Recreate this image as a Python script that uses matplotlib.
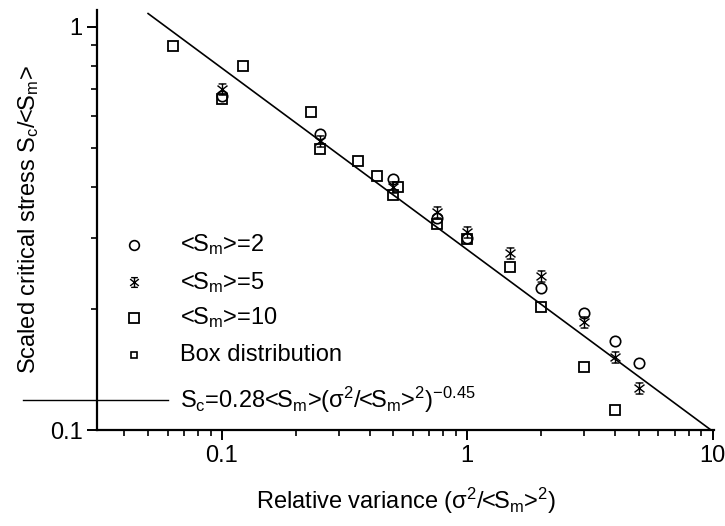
import matplotlib
matplotlib.use("Agg")
import matplotlib.pyplot as plt
import numpy as np
from matplotlib.path import Path

plt.rcParams['font.family'] = ['Liberation Sans', 'DejaVu Sans']
plt.rcParams['mathtext.fontset'] = 'custom'
plt.rcParams['mathtext.rm'] = 'Liberation Sans'
plt.rcParams['mathtext.it'] = 'Liberation Sans:italic'
plt.rcParams['mathtext.default'] = 'regular'

# <Sm>=2 (circles)
x_sm2 = [0.1, 0.25, 0.5, 0.75, 1.0, 2.0, 3.0, 4.0, 5.0]
y_sm2 = [0.675, 0.542, 0.42, 0.336, 0.30, 0.2255, 0.195, 0.1665, 0.147]

# <Sm>=5 (stars)
x_sm5 = [0.1, 0.25, 0.5, 0.75, 1.0, 1.5, 2.0, 3.0, 4.0, 5.0]
y_sm5 = [0.70, 0.52, 0.40, 0.347, 0.309, 0.274, 0.2415, 0.1856, 0.152, 0.127]

# <Sm>=10 (squares)
x_sm10 = [0.1, 0.25, 0.5, 0.75, 1.0, 1.5, 2.0, 3.0, 4.0]
y_sm10 = [0.662, 0.497, 0.382, 0.324, 0.297, 0.254, 0.202, 0.1435, 0.112]

# box distribution
x_box = [0.063, 0.122, 0.23, 0.36, 0.427, 0.52]
y_box = [0.897, 0.80, 0.614, 0.464, 0.426, 0.40]

# fit Sc/<Sm> = 0.28 (var)^-0.45
fit_a = 0.28
fit_b = -0.45
fit_range = [0.05, 10.0]

# star with bars top and bottom
star = Path(
    [(0, -1), (0, 1), (-0.9, -0.7), (0.9, 0.7), (-0.9, 0.7), (0.9, -0.7),
     (-0.7, 1), (0.7, 1), (-0.7, -1), (0.7, -1)],
    [Path.MOVETO, Path.LINETO] * 5)

fig = plt.figure(figsize=(7.25, 5.26), dpi=100)
ax = fig.add_axes([0.134, 0.1825, 0.851, 0.7985])

xf = np.logspace(np.log10(fit_range[0]), np.log10(fit_range[1]), 50)
ax.plot(xf, fit_a * xf ** fit_b, color='black', lw=1.2)

ax.plot(x_sm2, y_sm2, 'o', mfc='none', mec='black', ms=7.5, mew=1.2, ls='none')
ax.plot(x_sm5, y_sm5, marker=star, mfc='none', mec='black', ms=8, mew=1.0, ls='none')
ax.plot(x_sm10, y_sm10, 's', mfc='none', mec='black', ms=7, mew=1.3, ls='none')
ax.plot(x_box, y_box, 's', mfc='none', mec='black', ms=7, mew=1.3, ls='none')

ax.set_xscale('log')
ax.set_yscale('log')
ax.set_xlim(0.031, 10.15)
ax.set_ylim(0.1, 1.1)

ax.spines['top'].set_visible(False)
ax.spines['right'].set_visible(False)
ax.spines['left'].set_linewidth(1.6)
ax.spines['bottom'].set_linewidth(1.6)

ax.set_xticks([0.1, 1, 10])
ax.set_xticklabels(['0.1', '1', '10'])
ax.set_yticks([0.1, 1])
ax.set_yticklabels(['0.1', '1'])
ax.tick_params(which='major', direction='out', length=7, width=1.4, labelsize=17)
ax.tick_params(which='minor', direction='out', length=4, width=1.2, labelleft=False, labelbottom=False)

ax.set_xlabel('Relative variance (σ$^2$/<S$_m$>$^2$)', fontsize=17, labelpad=14)
ax.set_ylabel('Scaled critical stress S$_c$/<S$_m$>', fontsize=17, labelpad=6)

# hand-made legend inside the axes
tr = ax.transAxes
mx, tx = 0.06, 0.1345
rows = [0.4405, 0.352, 0.2667, 0.1786]
ax.plot([mx], [rows[0]], 'o', mfc='none', mec='black', ms=7, mew=1.2, transform=tr, clip_on=False)
ax.plot([mx], [rows[1]], marker=star, mfc='none', mec='black', ms=7, mew=1.0, transform=tr, clip_on=False)
ax.plot([mx], [rows[2]], 's', mfc='none', mec='black', ms=7, mew=1.3, transform=tr, clip_on=False)
ax.plot([mx], [rows[3]], 's', mfc='none', mec='black', ms=5, mew=1.2, transform=tr, clip_on=False)
labels = ['<S$_m$>=2', '<S$_m$>=5', '<S$_m$>=10', 'Box distribution']
for r, lab in zip(rows, labels):
    ax.text(tx, r, lab, transform=tr, fontsize=17, va='center')
ax.plot([-0.12, 0.115], [0.0714, 0.0714], color='black', lw=1.0, transform=tr, clip_on=False)
ax.text(tx, 0.0714, 'S$_c$=0.28<S$_m$>(σ$^2$/<S$_m$>$^2$)$^{-0.45}$', transform=tr,
        fontsize=17, va='center')

fig.savefig('out.png', dpi=100)
